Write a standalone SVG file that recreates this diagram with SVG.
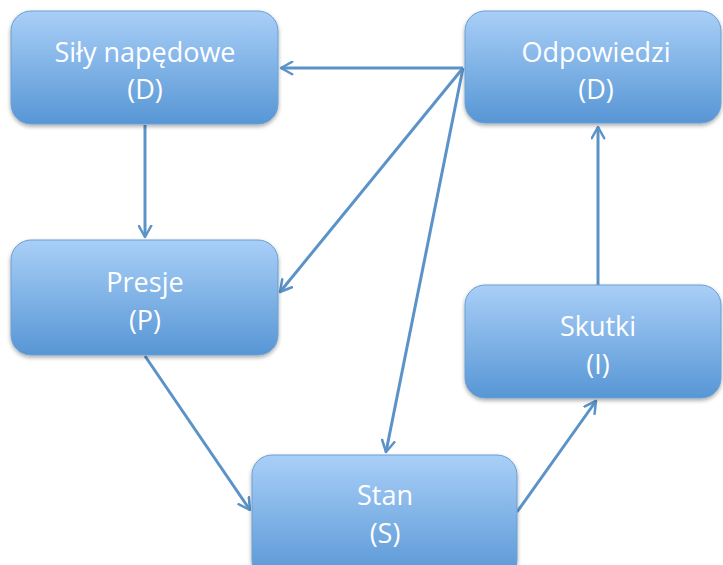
<svg xmlns="http://www.w3.org/2000/svg" width="723" height="565" viewBox="0 0 723 565">
<style>
.box{fill:url(#g);stroke:#6b9fd3;stroke-width:1;filter:url(#sh)}
.t{font-family:"Open Sans","Liberation Sans",sans-serif;font-size:27px;fill:#fff;text-anchor:middle}
.c{stroke:#5b93c9;stroke-width:3;fill:none;marker-end:url(#a)}
</style>
<defs>
<linearGradient id="g" x1="0" y1="0" x2="0" y2="1">
<stop offset="0" stop-color="#a9cff7"/>
<stop offset="1" stop-color="#5796d5"/>
</linearGradient>
<filter id="sh" x="-10%" y="-10%" width="120%" height="130%">
<feGaussianBlur in="SourceAlpha" stdDeviation="2"/>
<feOffset dy="2"/>
<feComponentTransfer><feFuncA type="linear" slope="0.35"/></feComponentTransfer>
<feMerge><feMergeNode/><feMergeNode in="SourceGraphic"/></feMerge>
</filter>
<marker id="a" viewBox="0 0 12 12" refX="10" refY="6" markerWidth="5" markerHeight="5" orient="auto" markerUnits="strokeWidth">
<path d="M1,1 L10,6 L1,11" fill="none" stroke="#5b93c9" stroke-width="2" stroke-linecap="round" stroke-linejoin="round"/>
</marker>
</defs>
<g id="connectors">
<line class="c" x1="145" y1="125" x2="145" y2="237"/>
<line class="c" x1="598" y1="285" x2="598" y2="127"/>
<line class="c" x1="463" y1="68" x2="281" y2="68"/>
<line class="c" x1="463" y1="68" x2="280" y2="292"/>
<line class="c" x1="463" y1="68" x2="386" y2="452"/>
<line class="c" x1="145" y1="356" x2="250" y2="510"/>
<line class="c" x1="517" y1="512" x2="596" y2="401"/>
</g>
<g id="n1"><rect class="box" x="11" y="11" width="267" height="113" rx="20"/><text class="t" x="145" y="62">Siły napędowe</text><text class="t" x="145" y="99">(D)</text></g>
<g id="n2"><rect class="box" x="465" y="11" width="256" height="112" rx="20"/><text class="t" x="596" y="62">Odpowiedzi</text><text class="t" x="596" y="99">(D)</text></g>
<g id="n3"><rect class="box" x="11" y="240" width="267" height="115" rx="20"/><text class="t" x="145" y="292">Presje</text><text class="t" x="145" y="330">(P)</text></g>
<g id="n4"><rect class="box" x="465" y="285" width="256" height="113" rx="20"/><text class="t" x="598" y="336">Skutki</text><text class="t" x="598" y="374">(I)</text></g>
<g id="n5"><rect class="box" x="252" y="455" width="265" height="125" rx="20"/><text class="t" x="385" y="505">Stan</text><text class="t" x="385" y="543">(S)</text></g>
</svg>
